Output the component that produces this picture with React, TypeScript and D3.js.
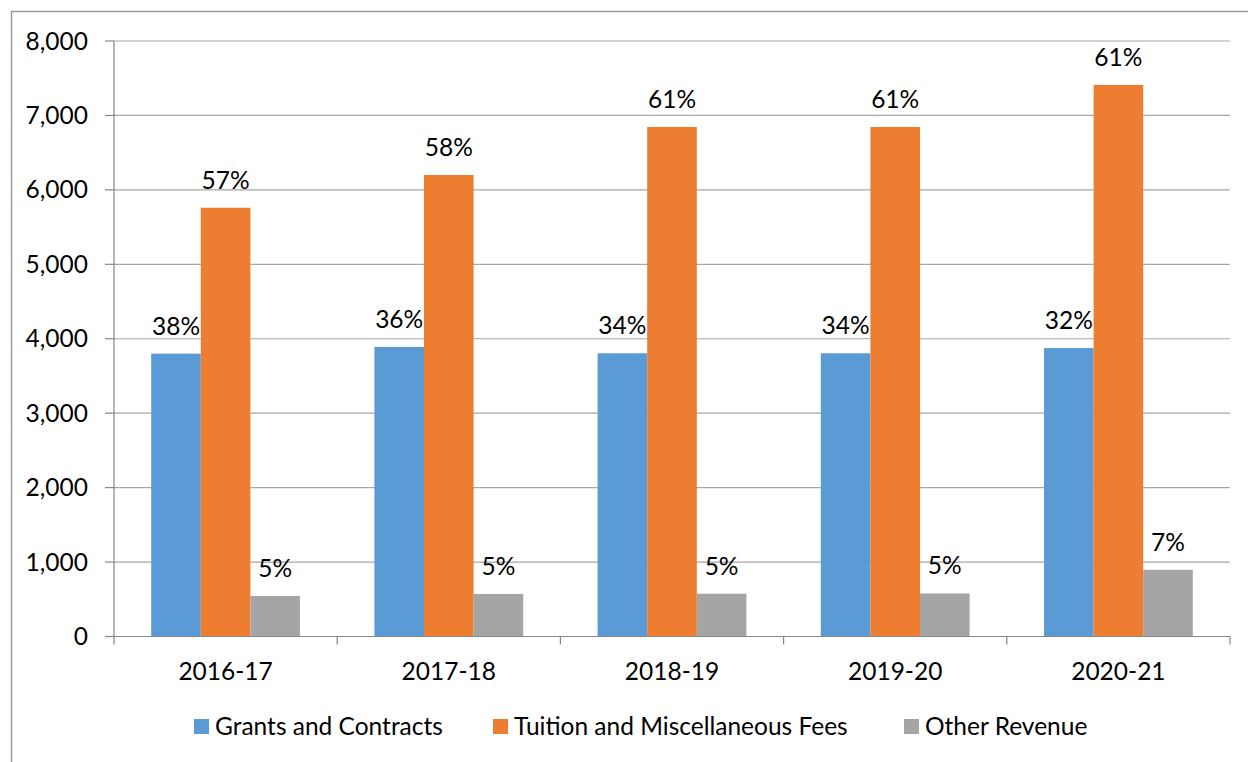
import React from "react";
import * as d3 from "d3";

const categories = ["2016-17", "2017-18", "2018-19", "2019-20", "2020-21"];
const seriesNames = ["Grants and Contracts", "Tuition and Miscellaneous Fees", "Other Revenue"];
const grants = [3800, 3890, 3805, 3805, 3875];
const tuition = [5760, 6200, 6845, 6845, 7410];
const other = [545, 572, 575, 578, 897];
const grantsPct = ["38%", "36%", "34%", "34%", "32%"];
const tuitionPct = ["57%", "58%", "61%", "61%", "61%"];
const otherPct = ["5%", "5%", "5%", "5%", "7%"];
const yTicks = [0, 1000, 2000, 3000, 4000, 5000, 6000, 7000, 8000];
const colors = ["#5B9BD5", "#ED7D31", "#A5A5A5"];

const W = 1248, H = 762;
const left = 114, right = 1230, top = 41, bottom = 636.5;
const FONT = "Lato, 'Open Sans', sans-serif";
const FS = 24.5;

export default function App() {
  const x = d3.scaleBand<string>().domain(categories).range([left, right]).paddingInner(0).paddingOuter(0);
  const y = d3.scaleLinear().domain([0, 8000]).range([bottom, top]);
  const bw = x.bandwidth();
  const barW = bw / 4.5;
  const series = [grants, tuition, other];
  const pcts = [grantsPct, tuitionPct, otherPct];
  const fmt = d3.format(",");
  const legendX = [194, 493, 904];

  return (
    <svg width={W} height={H} style={{ position: "absolute", left: 0, top: 0 }}>
      <rect x={0} y={0} width={W} height={H} fill="#fff" />
      <path d={`M11.5,${H} V11.5 H${W}`} fill="none" stroke="#9a9a9a" strokeWidth={1.5} />
      {yTicks.map((t) => (
        <g key={t}>
          {t > 0 && <line x1={left} x2={right} y1={y(t)} y2={y(t)} stroke="#a6a6a6" strokeWidth={1.2} />}
          <line x1={left - 9} x2={left} y1={y(t)} y2={y(t)} stroke="#868686" strokeWidth={1.2} />
          <text x={left - 26} y={y(t)} dy="0.35em" textAnchor="end" fontFamily={FONT} fontSize={FS} fill="#000">
            {fmt(t)}
          </text>
        </g>
      ))}
      {series.map((vals, si) =>
        vals.map((v, ci) => {
          const bx = (x(categories[ci]) as number) + barW * 0.75 + si * barW;
          return (
            <g key={`${si}-${ci}`}>
              <rect x={bx} y={y(v)} width={barW} height={bottom - y(v)} fill={colors[si]} />
              <text x={bx + barW / 2} y={y(v) - 19} textAnchor="middle" fontFamily={FONT} fontSize={FS} fill="#000">
                {pcts[si][ci]}
              </text>
            </g>
          );
        })
      )}
      <line x1={left} x2={left} y1={top} y2={bottom} stroke="#868686" strokeWidth={1.2} />
      <line x1={left} x2={right} y1={bottom} y2={bottom} stroke="#868686" strokeWidth={1.2} />
      {[...categories.map((c) => x(c) as number), right].map((tx, i) => (
        <line key={i} x1={tx} x2={tx} y1={bottom} y2={bottom + 8} stroke="#868686" strokeWidth={1.2} />
      ))}
      {categories.map((c) => (
        <text key={c} x={(x(c) as number) + bw / 2} y={680} textAnchor="middle" fontFamily={FONT} fontSize={FS} fill="#000">
          {c}
        </text>
      ))}
      {seriesNames.map((n, i) => (
        <g key={n}>
          <rect x={legendX[i]} y={719} width={15} height={15} fill={colors[i]} />
          <text x={legendX[i] + 21} y={734.5} fontFamily={FONT} fontSize={FS} fill="#000">
            {n}
          </text>
        </g>
      ))}
    </svg>
  );
}
